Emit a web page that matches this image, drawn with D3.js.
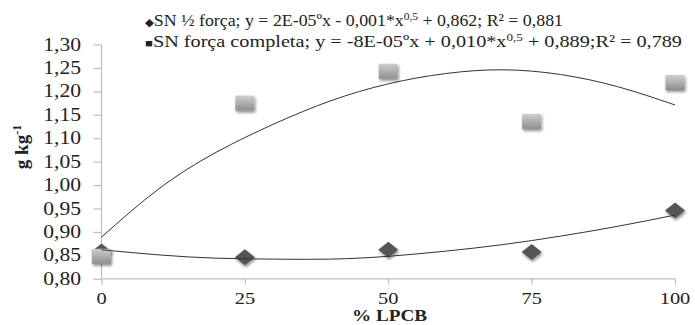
<!DOCTYPE html>
<html>
<head>
<meta charset="utf-8">
<script src="https://cdn.jsdelivr.net/npm/d3@7"></script>
<style>
  body { margin: 0; background: #fff; }
  svg text { font-family: "Liberation Serif", "Times New Roman", "DejaVu Serif", serif; fill: #222; }
</style>
</head>
<body>
<div id="chart"></div>
<script>
const width = 695,
  height = 325;

// observed values
const doses = [0, 25, 50, 75, 100];
const halfStrength = [0.858, 0.846, 0.862, 0.857, 0.946];
const fullStrength = [0.848, 1.175, 1.243, 1.136, 1.219];

// trendlines
const trendX = [0, 10, 20, 30, 40, 50, 60, 70, 80, 90, 100];
const halfTrend = [0.862, 0.851, 0.844, 0.842, 0.842, 0.848, 0.859, 0.873, 0.891, 0.912, 0.936];
const fullTrend = [0.889, 0.992, 1.07, 1.13, 1.18, 1.216, 1.238, 1.246, 1.236, 1.21, 1.171];

const yTicks = [0.8, 0.85, 0.9, 0.95, 1.0, 1.05, 1.1, 1.15, 1.2, 1.25, 1.3];
const xTicks = [0, 25, 50, 75, 100];

const fmt = d => d3.format('.2f')(d).replace('.', ',');

const svg = d3.select('#chart').append('svg').attr('width', width).attr('height', height);

const defs = svg.append('defs');
const shadow = defs.append('filter').attr('id', 'shadow')
  .attr('x', '-50%').attr('y', '-50%').attr('width', '200%').attr('height', '200%');
shadow.append('feDropShadow').attr('dx', 1).attr('dy', 2)
  .attr('stdDeviation', 1.6).attr('flood-color', '#000').attr('flood-opacity', 0.45);
const grad = defs.append('linearGradient').attr('id', 'sqGrad')
  .attr('x1', 0).attr('y1', 0).attr('x2', 0).attr('y2', 1);
grad.append('stop').attr('offset', '0%').attr('stop-color', '#cfcfcf');
grad.append('stop').attr('offset', '100%').attr('stop-color', '#8e8e8e');

const x = d3.scaleLinear().domain([0, 100]).range([101.5, 675]);
const y = d3.scaleLinear().domain([0.8, 1.3]).range([278.8, 44.5]);

// axes
const axisColor = '#bdbdbd';
const yAxis = svg.append('g').attr('transform', `translate(${x(0)},0)`)
  .call(d3.axisLeft(y).tickValues(yTicks).tickSize(8).tickFormat(''));
const xAxis = svg.append('g').attr('transform', `translate(0,${y(0.8)})`)
  .call(d3.axisBottom(x).tickValues(xTicks).tickSize(6).tickFormat(''));
[xAxis, yAxis].forEach(a => {
  a.select('.domain').attr('stroke', axisColor).attr('stroke-width', 1.2);
  a.selectAll('.tick line').attr('stroke', axisColor).attr('stroke-width', 1.2);
});
yAxis.select('.domain').attr('d', `M0,${y(1.3)}V${y(0.8)}`);
xAxis.select('.domain').attr('d', `M${x(0)},0H${x(100)}`);

svg.append('g').selectAll('text').data(yTicks).join('text')
  .attr('transform', d => `translate(81,${y(d) + 6}) scale(1.2,1)`)
  .attr('text-anchor', 'end')
  .style('font-size', '18px')
  .text(fmt);

svg.append('g').selectAll('text').data(xTicks).join('text')
  .attr('transform', d => `translate(${x(d)},304) scale(1.2,1)`)
  .attr('text-anchor', 'middle')
  .style('font-size', '17px')
  .text(d => d);

svg.append('text')
  .attr('transform', 'translate(389.5,321) scale(1.2,1)')
  .attr('text-anchor', 'middle')
  .style('font-size', '16px').style('font-weight', 'bold')
  .text('% LPCB');

const yTitle = svg.append('text')
  .attr('transform', 'translate(28,147) rotate(-90)')
  .attr('text-anchor', 'middle')
  .style('font-size', '19px').style('font-weight', 'bold');
yTitle.append('tspan').text('g kg');
yTitle.append('tspan').attr('dy', -7).style('font-size', '12px').text('-1');

// markers
svg.append('g').selectAll('path').data(doses).join('path')
  .attr('d', 'M0,-8L10,0L0,8L-10,0Z')
  .attr('transform', (d, i) => `translate(${x(d)},${y(halfStrength[i])})`)
  .attr('fill', '#555')
  .attr('filter', 'url(#shadow)');

svg.append('g').selectAll('rect').data(doses).join('rect')
  .attr('x', d => x(d) - 9.5)
  .attr('y', (d, i) => y(fullStrength[i]) - 7.5)
  .attr('width', 19).attr('height', 15)
  .attr('fill', 'url(#sqGrad)')
  .attr('filter', 'url(#shadow)');

// trendlines
const line = d3.line().x(d => x(d[0])).y(d => y(d[1])).curve(d3.curveNatural);
[halfTrend, fullTrend].forEach(series => {
  svg.append('path').datum(trendX.map((d, i) => [d, series[i]]))
    .attr('d', line).attr('fill', 'none').attr('stroke', '#333').attr('stroke-width', 1);
});

// legend
const legend = [
  { mark: '\u25C6', parts: ['SN \u00BD força; y = 2E-05ºx - 0,001*x', '0,5', ' + 0,862; R² = 0,881'], w: 418, y: 26 },
  { mark: '\u25A0', parts: ['SN força completa; y = -8E-05ºx + 0,010*x', '0,5', ' + 0,889;R² = 0,789'], w: 537, y: 47 }
];
legend.forEach(l => {
  const t = svg.append('text')
    .attr('x', 145).attr('y', l.y)
    .style('font-size', '17px')
    .attr('textLength', l.w).attr('lengthAdjust', 'spacingAndGlyphs');
  t.append('tspan').style('font-size', '11px').text(l.mark);
  t.append('tspan').text(l.parts[0]);
  t.append('tspan').attr('dy', -6).style('font-size', '11px').text(l.parts[1]);
  t.append('tspan').attr('dy', 6).text(l.parts[2]);
});
</script>
</body>
</html>
